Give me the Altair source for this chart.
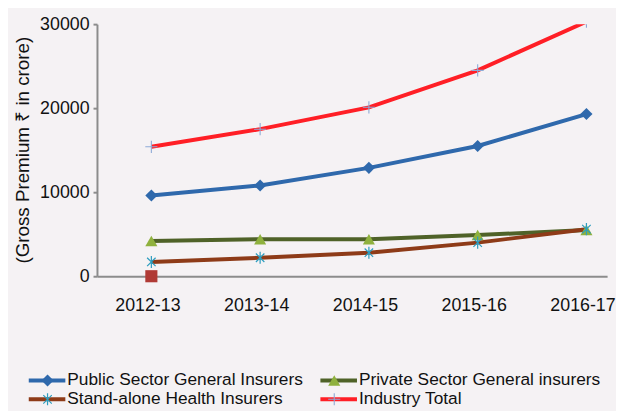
import altair as alt
import pandas as pd

years = ["2012-13", "2013-14", "2014-15", "2015-16", "2016-17"]
series_names = [
    "Public Sector General Insurers",
    "Private Sector General insurers",
    "Stand-alone Health Insurers",
    "Industry Total",
]
public = [9600, 10800, 12900, 15500, 19300]
private = [4200, 4400, 4400, 4900, 5500]
standalone = [1700, 2200, 2800, 4000, 5600]
industry = [15400, 17500, 20100, 24500, 30300]
extra_name = "Series 5"
extra_years = ["2012-13"]
extra_values = [0]

line_colors = ["#2f69ac", "#4f6228", "#8e3b18", "#ff1f26"]
marker_colors = ["#2f69ac", "#8fb13e", "#2d9dbf", "#8eaad6", "#b03a35"]

ASTERISK = ("M-0.1,-1L0.1,-1L0.1,1L-0.1,1Z"
            "M-0.63,-0.77L0.77,0.63L0.63,0.77L-0.77,-0.63Z"
            "M-0.77,0.63L0.63,-0.77L0.77,-0.63L-0.63,0.77Z")
PLUS = ("M-1,-0.09L-0.09,-0.09L-0.09,-1L0.09,-1L0.09,-0.09L1,-0.09"
        "L1,0.09L0.09,0.09L0.09,1L-0.09,1L-0.09,0.09L-1,0.09Z")
shapes = ["diamond", "triangle-up", ASTERISK, PLUS, "square"]

rows = []
for name, vals in zip(series_names, [public, private, standalone, industry]):
    for i, (yr, v) in enumerate(zip(years, vals)):
        rows.append({"year": yr, "idx": i, "value": v, "series": name, "pt": name})
df = pd.DataFrame(rows)
extra_df = pd.DataFrame({"year": extra_years,
                         "idx": [years.index(y) for y in extra_years],
                         "value": extra_values,
                         "pt": [extra_name] * len(extra_years)})

FONT = "Liberation Sans"
label_expr = "[" + ",".join("'%s'" % y for y in years) + "][datum.value]"

x_enc = alt.X("idx:Q",
              scale=alt.Scale(domain=[-0.5, 4.19], nice=False, zero=False),
              axis=alt.Axis(values=list(range(len(years))), labelExpr=label_expr,
                            title=None, ticks=False, grid=False, domainColor="#8c8c8c",
                            domainWidth=2, labelFont=FONT, labelFontSize=18,
                            labelColor="#111111", labelPadding=21, labelOffset=-4))
y_enc = alt.Y("value:Q",
              scale=alt.Scale(domain=[0, 30000], nice=False),
              axis=alt.Axis(values=[0, 10000, 20000, 30000], grid=False, format="d",
                            title="(Gross Premium \u20b9 in  crore)",
                            titleFont=FONT, titleFontSize=19, titleFontWeight="normal",
                            titleColor="#111111", titleAngle=-90, titleX=-75, titleY=127,
                            titleAlign="center", titleBaseline="middle",
                            labelFont=FONT, labelFontSize=18, labelColor="#111111",
                            tickSize=4, tickColor="#8c8c8c", tickWidth=2,
                            domainColor="#8c8c8c", domainWidth=2, labelPadding=4))

color_scale = alt.Scale(domain=series_names + [extra_name], range=marker_colors)
shape_scale = alt.Scale(domain=series_names + [extra_name], range=shapes)

lines = alt.Chart(df).mark_line(strokeWidth=4, clip=True).encode(
    x=x_enc, y=y_enc,
    stroke=alt.Stroke("series:N",
                      scale=alt.Scale(domain=series_names, range=line_colors),
                      legend=alt.Legend(orient="none", legendX=-71, legendY=351,
                                        columns=2, direction="horizontal",
                                        symbolType="stroke", symbolStrokeWidth=4,
                                        symbolSize=1369, title=None, padding=0,
                                        labelFont=FONT, labelFontSize=17.5, labelLimit=0,
                                        labelColor="#111111", labelOffset=0,
                                        clipHeight=19, columnPadding=15, rowPadding=0)),
    order="idx:Q",
)

marker_legend = alt.Legend(orient="none", legendX=-57, legendY=351, columns=2,
                           direction="horizontal", values=series_names, symbolSize=150,
                           title=None, padding=0, labelExpr="''", labelOffset=0,
                           clipHeight=19, columnPadding=276, rowPadding=0,
                           symbolOpacity=1)

points = alt.Chart(df).mark_point(filled=True, size=150, opacity=1, clip=True).encode(
    x="idx:Q", y="value:Q",
    color=alt.Color("pt:N", scale=color_scale, legend=marker_legend),
    shape=alt.Shape("pt:N", scale=shape_scale),
)

extra = alt.Chart(extra_df).mark_point(filled=True, size=150, opacity=1).encode(
    x="idx:Q", y="value:Q",
    color=alt.Color("pt:N", scale=color_scale, legend=marker_legend),
    shape=alt.Shape("pt:N", scale=shape_scale),
)

chart = alt.layer(lines, points, extra).properties(
    width=516, height=255,
    background="#f5f2f4",
    autosize=alt.AutoSizeParams(type="none"),
    padding={"left": 90, "top": 14, "right": 9, "bottom": 134},
).configure_view(stroke=None)

chart.save("out.html", embed_options={"renderer": "svg", "actions": False})
